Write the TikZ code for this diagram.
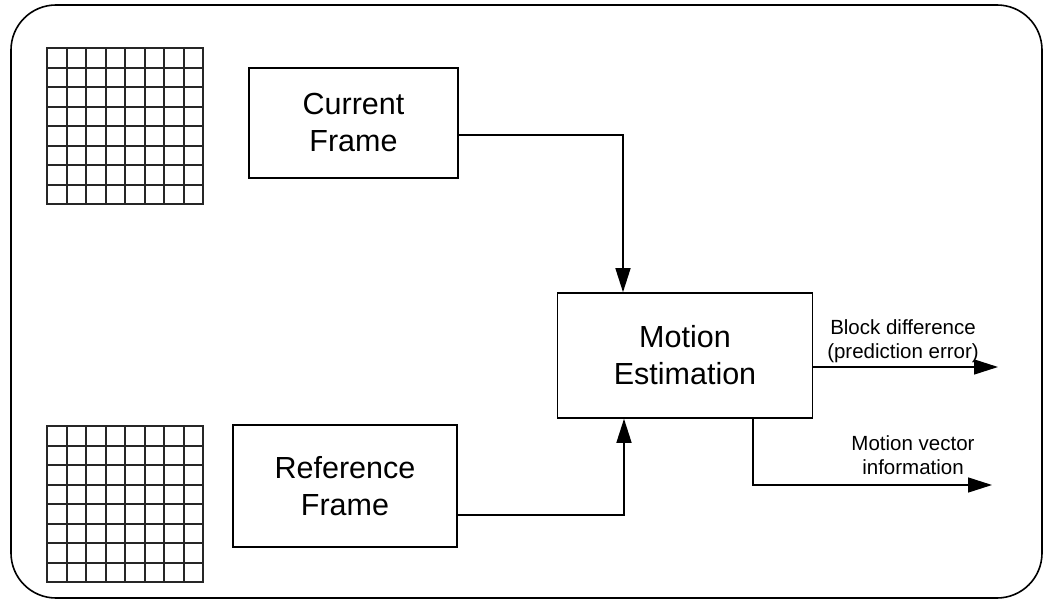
\documentclass[tikz,border=0pt]{standalone}
\usepackage{fontspec}
\setmainfont{Liberation Sans}
\usetikzlibrary{arrows.meta}
\begin{document}
\begin{tikzpicture}[x=1pt,y=-1pt,
  blk/.style={draw,line width=1.6pt,inner sep=0pt,align=center,
    font=\fontsize{30.5}{37}\selectfont},
  lbl/.style={align=center,inner sep=0pt,font=\fontsize{20.5}{24}\selectfont},
  conn/.style={line width=1.5pt},
  arr/.style={conn,-{Triangle[length=24pt,width=15pt]}},
  gridline/.style={line width=2pt,black!85,line cap=rect}]
\useasboundingbox (0,0) rectangle (1044,601);
% outer frame
\draw[line width=1.6pt,rounded corners=45pt] (11,5) rectangle (1042,598);
% 8x8 macroblock grids
\foreach \gy in {48,426}{
  \foreach \k in {0,...,8}{
    \pgfmathsetmacro{\off}{round(19.5*\k)}
    \draw[gridline] (47+\off,\gy) -- (47+\off,\gy+156);
    \draw[gridline] (47,\gy+\off) -- (203,\gy+\off);
  }
}
% processing blocks
\node[blk,minimum width=209pt,minimum height=110pt] (cur) at (353.5,123) {Current\\Frame};
\node[blk,minimum width=224pt,minimum height=122pt] (ref) at (345,486) {Reference\\Frame};
\node[blk,minimum width=255pt,minimum height=125pt] (me) at (685,355.5) {Motion\\Estimation};
% outputs
\coordinate (bdend) at (998,367);
\coordinate (mvend) at (992,485);
\node[lbl] (bdlbl) at (903,341) {Block difference\\(prediction error)};
\node[lbl] (mvlbl) at (913,455) {Motion vector\\information};
% connectors
\draw[arr] ([yshift=-12pt]cur.east) -| ([xshift=-62pt]me.north);
\draw[arr] ([yshift=-29pt]ref.east) -| ([xshift=-61pt]me.south);
\draw[arr] ([yshift=-11.5pt]me.east) -- (bdend);
\draw[arr] ([xshift=68pt]me.south) |- (mvend);
\end{tikzpicture}
\end{document}
